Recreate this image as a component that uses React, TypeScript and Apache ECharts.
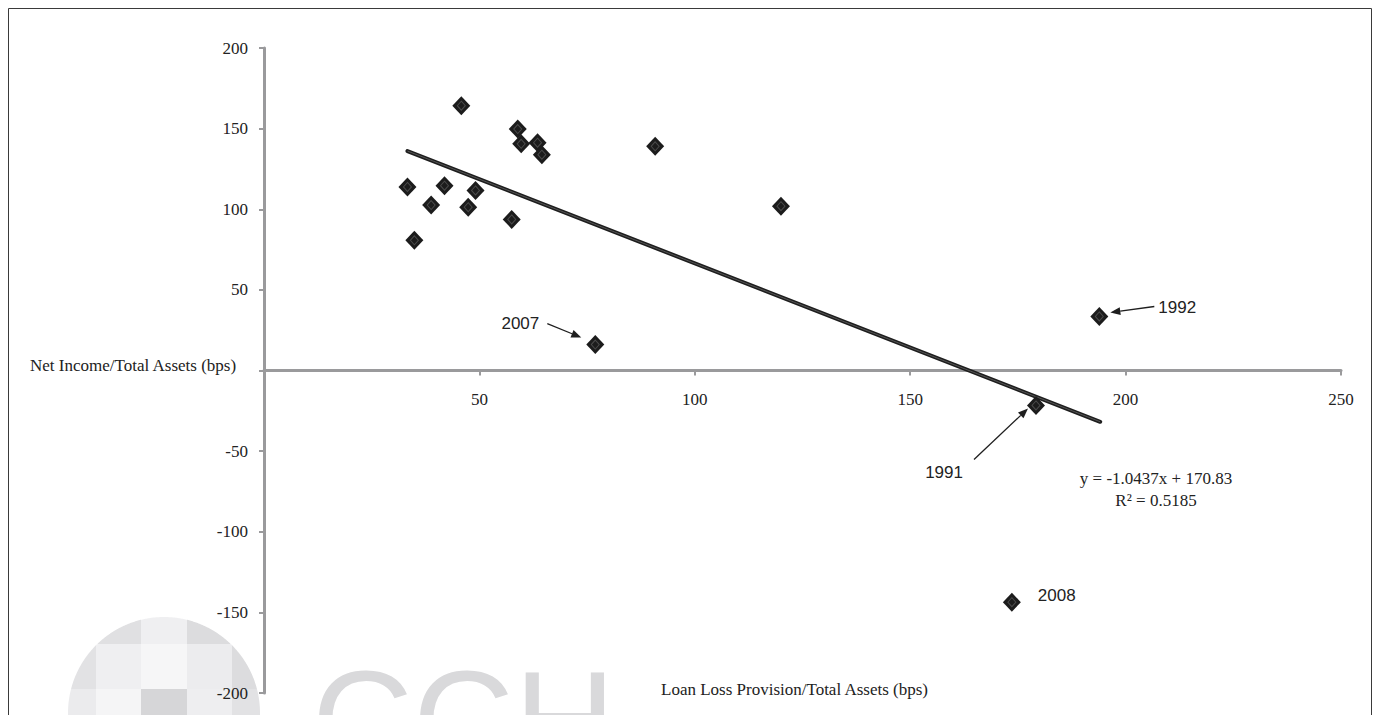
import { useEffect, useRef } from "react";
import * as echarts from "echarts";

// Loan loss provision / total assets (bps) and net income / total assets (bps)
const provision = [33.3, 34.9, 38.8, 41.9, 45.8, 47.4, 49.1, 57.5, 58.9, 59.7, 63.5, 64.5, 76.9, 90.8, 120.0, 173.6, 179.2, 193.9];
const netIncome = [113.8, 80.7, 102.6, 114.6, 164.2, 101.3, 111.7, 93.7, 149.7, 140.6, 141.3, 133.8, 16.1, 139.0, 101.9, -143.7, -21.7, 33.5];

// Trend line end points
const trendX = [33.3, 194.1];
const trendY = [136.1, -31.8];

const xTicks = [0, 50, 100, 150, 200, 250];
const yTicks = [-200, -150, -100, -50, 0, 50, 100, 150, 200];

const equationText = "y = -1.0437x + 170.83";
const rSquaredText = "R² = 0.5185";
const yTitle = "Net Income/Total Assets (bps)";
const xTitle = "Loan Loss Provision/Total Assets (bps)";

// Callouts: which point, its label
const calloutYears = ["2007", "1992", "1991", "2008"];
const calloutIndex = [12, 17, 16, 15];

// layout of callouts relative to the point (pixels)
const calloutLayout: Record<string, any> = {
  "2007": { arrow: [-48, -21, -14, -7], label: [-56, -21], align: "right" },
  "1992": { arrow: [55, -10, 11, -4], label: [59, -9], align: "left" },
  "1991": { arrow: [-62, 54, -8, 3], label: [-73, 67], align: "right" },
  "2008": { arrow: null, label: [26, -7], align: "left" },
};

const SERIF = "'Liberation Serif', 'Times New Roman', serif";
const SANS = "'Liberation Sans', Arial, sans-serif";

const GRID_TOP = 48;
const GRID_BOTTOM = 22;
const CHART_H = 715;

function clippedCell(x0: number, x1: number, y0: number, y1: number, cx: number, cy: number, r: number) {
  const pts: number[][] = [];
  const push = (x: number, y: number) => {
    const dx = x - cx, dy = y - cy;
    const d = Math.sqrt(dx * dx + dy * dy);
    if (d > r) pts.push([cx + (dx / d) * r, cy + (dy / d) * r]);
    else pts.push([x, y]);
  };
  const step = 1;
  for (let x = x0; x < x1; x += step) push(x, y0);
  for (let y = y0; y < y1; y += step) push(x1, y);
  for (let x = x1; x > x0; x -= step) push(x, y1);
  for (let y = y1; y > y0; y -= step) push(x0, y);
  return pts;
}

export default function App() {
  const ref = useRef<HTMLDivElement>(null);
  useEffect(() => {
    if (!ref.current) return;
    const chart = echarts.init(ref.current, null, { renderer: "svg" });
    const pts = provision.map((x, i) => [x, netIncome[i]]);
    const yMin = yTicks[0];
    const yMax = yTicks[yTicks.length - 1];
    const gridH = CHART_H - GRID_TOP - GRID_BOTTOM;
    const zeroOffset = -(gridH * (0 - yMin)) / (yMax - yMin);
    chart.setOption({
      animation: false,
      backgroundColor: "#ffffff",
      grid: { left: 264, right: 32, top: GRID_TOP, bottom: GRID_BOTTOM, containLabel: false, outerBoundsMode: "none" },
      xAxis: {
        type: "value",
        min: xTicks[0],
        max: xTicks[xTicks.length - 1],
        interval: 50,
        position: "bottom",
        offset: zeroOffset,
        splitLine: { show: false },
        axisLine: { onZero: false, lineStyle: { color: "#9a9a9c", width: 3 } },
        axisTick: { show: true, length: 5, lineStyle: { color: "#9a9a9c", width: 2 } },
        axisLabel: {
          margin: 20,
          color: "#222",
          fontFamily: SERIF,
          fontSize: 17,
          formatter: (v: number) => (v === 0 ? "" : String(v)),
        },
      },
      yAxis: {
        type: "value",
        min: yMin,
        max: yMax,
        interval: 50,
        splitLine: { show: false },
        axisLine: { onZero: false, lineStyle: { color: "#9a9a9c", width: 3 } },
        axisTick: { show: true, length: 5, lineStyle: { color: "#9a9a9c", width: 2 } },
        axisLabel: {
          margin: 16,
          color: "#222",
          fontFamily: SERIF,
          fontSize: 17,
          formatter: (v: number) => (v === 0 ? "" : String(v)),
        },
      },
      series: [
        {
          type: "line",
          data: trendX.map((x, i) => [x, trendY[i]]),
          symbol: "none",
          lineStyle: { color: "#1e1e1e", width: 4, cap: "round" },
          z: 3,
        },
        {
          type: "line",
          data: trendX.map((x, i) => [x, trendY[i]]),
          symbol: "none",
          lineStyle: { color: "#555555", width: 1 },
          z: 3,
        },
        {
          type: "scatter",
          data: pts,
          symbol: "diamond",
          symbolSize: [18, 19],
          itemStyle: { color: "#1c1c1c", opacity: 1 },
          z: 4,
        },
        {
          type: "scatter",
          data: pts,
          symbol: "diamond",
          symbolSize: [8, 9],
          itemStyle: { color: "#1c1c1c", borderColor: "#4a4a4a", borderWidth: 1, opacity: 1 },
          z: 5,
        },
      ],
    });

    const graphics: any[] = [];
    // watermark: pixelated circle
    const cx = 164, cy = 713, r = 96;
    const cells: [number, number, number, number, string][] = [
      [96, 141, 617, 644, "#e0e0e2"],
      [141, 187, 617, 644, "#efeff1"],
      [187, 232, 617, 644, "#dcdcde"],
      [60, 96, 644, 689, "#e2e2e4"],
      [96, 141, 644, 689, "#efeff1"],
      [141, 187, 644, 689, "#f6f6f7"],
      [187, 232, 644, 689, "#ececee"],
      [232, 270, 644, 689, "#dcdcde"],
      [60, 96, 689, 716, "#ebebed"],
      [96, 141, 689, 716, "#f5f5f6"],
      [141, 187, 689, 716, "#d6d6d8"],
      [187, 232, 689, 716, "#eeeef0"],
      [232, 270, 689, 716, "#e2e2e4"],
    ];
    cells.forEach(([x0, x1, y0, y1, c]) => {
      graphics.push({
        type: "polygon",
        z: -10,
        silent: true,
        shape: { points: clippedCell(x0, x1, y0, y1, cx, cy, r) },
        style: { fill: c, stroke: null },
      });
    });
    graphics.push({
      type: "text",
      z: -10,
      silent: true,
      x: 312,
      y: 719,
      style: {
        text: "CCH",
        fontFamily: SANS,
        fontSize: 140,
        fill: "#d9d9db",
        textAlign: "left",
        textVerticalAlign: "middle",
      },
    });
    // border
    graphics.push({
      type: "rect",
      z: 10,
      silent: true,
      shape: { x: 8.5, y: 8.5, width: 1363, height: 730 },
      style: { fill: null, stroke: "#3a3a3a", lineWidth: 1 },
    });
    // axis titles
    graphics.push({
      type: "text",
      x: 30,
      y: 365,
      style: { text: yTitle, fontFamily: SERIF, fontSize: 17, fill: "#222", textAlign: "left", textVerticalAlign: "middle" },
    });
    graphics.push({
      type: "text",
      x: 661,
      y: 689,
      style: { text: xTitle, fontFamily: SERIF, fontSize: 17, fill: "#222", textAlign: "left", textVerticalAlign: "middle" },
    });
    // equation
    graphics.push({
      type: "text",
      x: 1156,
      y: 478,
      style: { text: equationText, fontFamily: SERIF, fontSize: 17, fill: "#222", textAlign: "center", textVerticalAlign: "middle" },
    });
    graphics.push({
      type: "text",
      x: 1156,
      y: 500,
      style: { text: rSquaredText, fontFamily: SERIF, fontSize: 17, fill: "#222", textAlign: "center", textVerticalAlign: "middle" },
    });
    // callouts
    calloutYears.forEach((yr, k) => {
      const i = calloutIndex[k];
      const p = chart.convertToPixel({ gridIndex: 0 }, [provision[i], netIncome[i]]) as number[];
      const L = calloutLayout[yr];
      graphics.push({
        type: "text",
        x: p[0] + L.label[0],
        y: p[1] + L.label[1],
        style: { text: yr, fontFamily: SANS, fontSize: 17, fill: "#222", textAlign: L.align, textVerticalAlign: "middle" },
      });
      if (L.arrow) {
        const sx = p[0] + L.arrow[0], sy = p[1] + L.arrow[1];
        const ex = p[0] + L.arrow[2], ey = p[1] + L.arrow[3];
        const dx = ex - sx, dy = ey - sy;
        const len = Math.sqrt(dx * dx + dy * dy);
        const ux = dx / len, uy = dy / len;
        const bx = ex - ux * 10, by = ey - uy * 10;
        const px = -uy, py = ux;
        graphics.push({
          type: "line",
          shape: { x1: sx, y1: sy, x2: bx, y2: by },
          style: { stroke: "#1e1e1e", lineWidth: 1.3 },
        });
        graphics.push({
          type: "polygon",
          shape: { points: [[ex, ey], [bx + px * 4, by + py * 4], [bx - px * 4, by - py * 4]] },
          style: { fill: "#1e1e1e" },
        });
      }
    });
    chart.setOption({ graphic: graphics });
    return () => chart.dispose();
  }, []);
  return <div ref={ref} style={{ position: "fixed", left: 0, top: 0, width: 1373, height: 715 }} />;
}
